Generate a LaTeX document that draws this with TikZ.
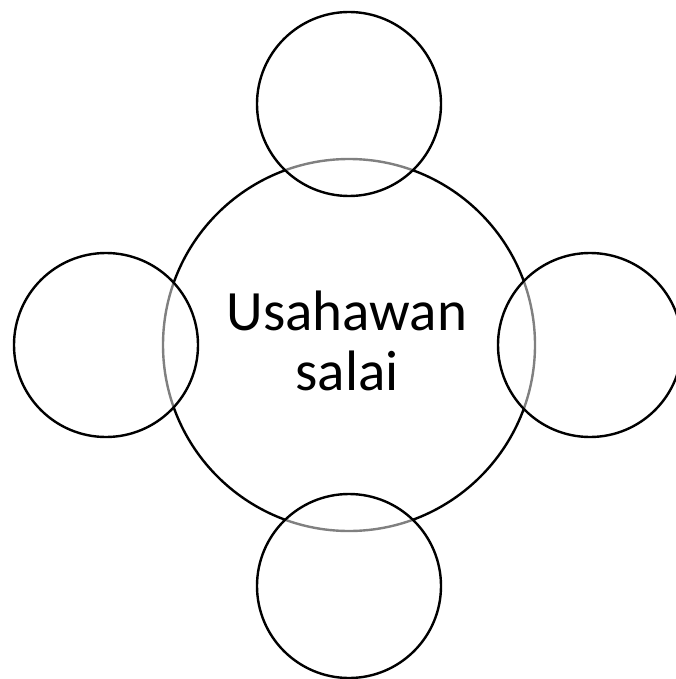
\documentclass[tikz,border=0pt]{standalone}
\usepackage{fontspec}
\setmainfont{Carlito}
\begin{document}
\begin{tikzpicture}[x=1pt,y=-1pt,
  bigc/.style={circle,draw=black,line width=2.4pt,minimum size=372pt,inner sep=0pt},
  smallc/.style={circle,draw=black,line width=2.4pt,fill=white,fill opacity=0.5,draw opacity=1,minimum size=184pt,inner sep=0pt},
  lbl/.style={align=center,font=\fontsize{57}{60}\selectfont,inner sep=0pt}]
\useasboundingbox (0,0) rectangle (676,679);
\node[bigc] (center) at (349,345) {};
\node[smallc] (top) at (349,104) {};
\node[smallc] (left) at (106,345) {};
\node[smallc] (right) at (590,345) {};
\node[smallc] (bottom) at (349,586) {};
\node[lbl] (txt) at (347,341) {Usahawan\\salai};
\end{tikzpicture}
\end{document}
